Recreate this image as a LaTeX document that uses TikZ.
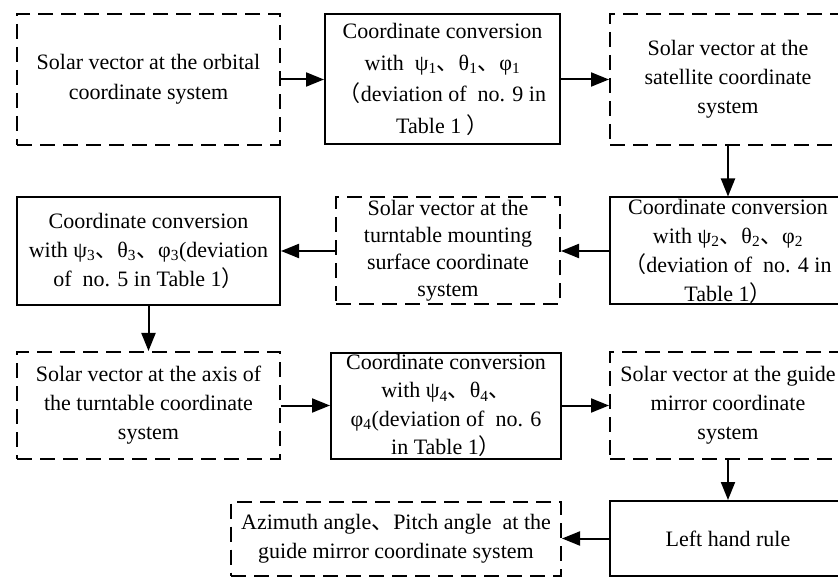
\documentclass[tikz,border=0pt]{standalone}
\usepackage{fontspec}
\setmainfont{Liberation Serif}
\newfontfamily\cjkfont{Noto Sans CJK SC}
\usetikzlibrary{arrows.meta}
% CJK punctuation used in the labels
\newcommand{\dun}{{\cjkfont 、}}
\newcommand{\lpar}{{\cjkfont （}}
\newcommand{\rpar}{{\cjkfont ）}}
\newcommand{\sub}[1]{\textsubscript{#1}}
\begin{document}
\begin{tikzpicture}[x=1pt,y=-1pt,
  box/.style={draw,line width=2pt,rectangle,inner sep=0pt,align=center,
    font=\fontsize{22}{29}\selectfont},
  dbox/.style={box,dash pattern=on 15pt off 8pt},
  flow/.style={line width=2pt,-{Triangle[length=18pt,width=14pt]}}]
\useasboundingbox (0,0) rectangle (838,577);
\clip (0,0) rectangle (838,577);
% row 1
\node[dbox,minimum width=263pt,minimum height=131pt,
  font=\fontsize{22}{30}\selectfont] (orb) at (148.5,79.5)
  {Solar vector at the orbital\\coordinate system};
\node[box,minimum width=235pt,minimum height=130pt,
  font=\fontsize{22}{31.5}\selectfont] (conv1) at (442.5,79.5)
  {Coordinate conversion\\with\ \ ψ\sub{1}\dun θ\sub{1}\dun φ\sub{1}\\\lpar deviation of\ \ no. 9 in\\Table 1 \rpar};
\node[dbox,minimum width=236pt,minimum height=131pt] (sat) at (728,79.5)
  {Solar vector at the\\satellite coordinate\\system};
% row 2
\node[box,minimum width=236pt,minimum height=107pt] (conv2) at (728,251)
  {Coordinate conversion\\with ψ\sub{2}\dun θ\sub{2}\dun φ\sub{2}\\\lpar deviation of\ \ no. 4 in\\Table 1\rpar};
\node[dbox,minimum width=224pt,minimum height=107pt,
  font=\fontsize{22}{27}\selectfont] (mount) at (448,251)
  {Solar vector at the\\turntable mounting\\surface coordinate\\system};
\node[box,minimum width=263pt,minimum height=108pt] (conv3) at (148.5,251)
  {Coordinate conversion\\with ψ\sub{3}\dun θ\sub{3}\dun φ\sub{3}(deviation\\of\ \ no. 5 in Table 1\rpar};
% row 3
\node[dbox,minimum width=263pt,minimum height=107pt] (axis) at (148.5,405.5)
  {Solar vector at the axis of\\the turntable coordinate\\system};
\node[box,minimum width=230pt,minimum height=106pt,
  font=\fontsize{22}{28.3}\selectfont] (conv4) at (446,405.5)
  {Coordinate conversion\\with ψ\sub{4}\dun θ\sub{4}\dun\\φ\sub{4}(deviation of\ \ no. 6\\in Table 1\rpar};
\node[dbox,minimum width=236pt,minimum height=107pt] (guide) at (728,405.5)
  {Solar vector at the guide\\mirror coordinate\\system};
% row 4
\node[box,minimum width=236pt,minimum height=75pt] (lhr) at (728,538.5)
  {Left hand rule};
\node[dbox,minimum width=330pt,minimum height=74pt] (angles) at (396,538.5)
  {Azimuth angle\dun Pitch angle\ \ at the\\guide mirror coordinate system};
% connectors
\draw[flow] (orb.east) -- (conv1.west);
\draw[flow] (conv1.east) -- (sat.west);
\draw[flow] (sat.south) -- (conv2.north);
\draw[flow] (conv2.west) -- (mount.east);
\draw[flow] (mount.west) -- (conv3.east);
\draw[flow] (conv3.south) -- (axis.north);
\draw[flow] (axis.east) -- (conv4.west);
\draw[flow] (conv4.east) -- (guide.west);
\draw[flow] (guide.south) -- (lhr.north);
\draw[flow] (lhr.west) -- (angles.east);
\end{tikzpicture}
\end{document}
